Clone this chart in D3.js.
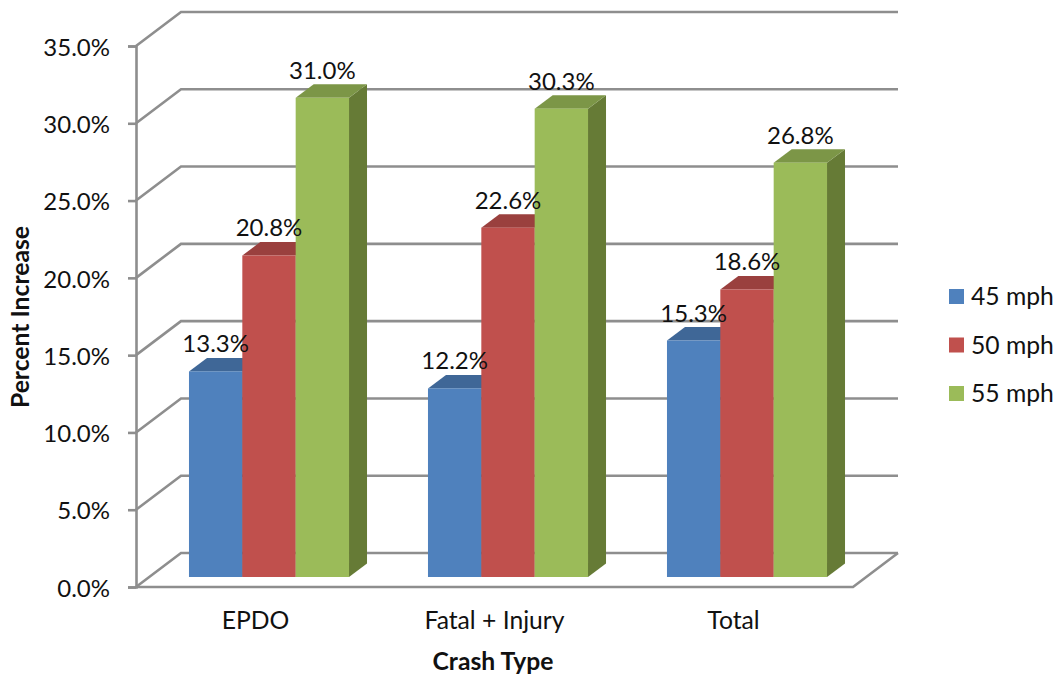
<!DOCTYPE html>
<html>
<head>
<meta charset="utf-8">
<script src="https://cdn.jsdelivr.net/npm/d3@7"></script>
<style>
  html, body { margin: 0; padding: 0; background: #fff; }
  svg { display: block; }
  text { font-family: Lato, "Noto Sans", sans-serif; fill: #111; }
</style>
</head>
<body>
<svg id="chart" width="1057" height="675"></svg>
<script>
const categories = ["EPDO", "Fatal + Injury", "Total"];
const seriesNames = ["45 mph", "50 mph", "55 mph"];
const speed45 = [13.3, 12.2, 15.3];
const speed50 = [20.8, 22.6, 18.6];
const speed55 = [31.0, 30.3, 26.8];
const seriesValues = [speed45, speed50, speed55];
const yTicks = [0, 5, 10, 15, 20, 25, 30, 35];
const frontColors = ["#4F81BD", "#C0504D", "#9BBB59"];
const topColors = ["#3F6797", "#9A403E", "#7C9647"];
const sideColors = ["#2F4D71", "#73302E", "#667B36"];

const svg = d3.select("#chart");
const numberSize = 24;
const wordSize = 24.7;

// Front plane of the 3D box and the depth offset of its back wall
const plot = { left: 136, right: 853, top: 46, bottom: 587 };
const wall = { dx: 45, dy: -34 };
// Bars stand part-way into the box and have their own depth
const barShift = { dx: 13.5, dy: -10 };
const barDepth = { dx: 18, dy: -13.5 };

const y = d3.scaleLinear().domain([0, 35]).range([plot.bottom, plot.top]);
const x = d3.scaleBand().domain(categories).range([plot.left, plot.right]);
const xSeries = d3.scaleBand().domain(d3.range(seriesNames.length))
  .range([0, x.bandwidth()]).paddingInner(0).paddingOuter(0.74);

const gridColor = "#8E8E8E";
const grid = svg.append("g")
  .attr("fill", "none").attr("stroke", gridColor).attr("stroke-width", 2.6);

// Back wall rules and their returns along the left wall
yTicks.forEach(t => {
  grid.append("path").attr("d", d3.line()([
    [plot.left, y(t)],
    [plot.left + wall.dx, y(t) + wall.dy],
    [plot.right + wall.dx, y(t) + wall.dy]
  ]));
});

// Floor outline
grid.append("path").attr("d", d3.line()([
  [plot.left, plot.bottom],
  [plot.right, plot.bottom],
  [plot.right + wall.dx, plot.bottom + wall.dy]
]));

// Value axis with outward ticks
const yAxis = svg.append("g")
  .attr("transform", `translate(${plot.left},0)`)
  .call(d3.axisLeft(y).tickValues(yTicks).tickSize(8).tickPadding(18)
    .tickFormat(d => d3.format(".1f")(d) + "%"));
yAxis.selectAll("line, path").attr("stroke", gridColor).attr("stroke-width", 2.6);
yAxis.selectAll("text").attr("font-size", numberSize).attr("font-family", null).attr("y", 1.5);

// Category axis: only the labels are visible, the line is part of the floor
const xAxis = svg.append("g")
  .attr("transform", `translate(0,${plot.bottom})`)
  .call(d3.axisBottom(x).tickSize(0).tickPadding(24));
xAxis.select("path").remove();
xAxis.selectAll("text").attr("font-size", wordSize).attr("font-family", null);

// Extruded bars, painted left to right so each one covers its neighbour's side
const barBase = plot.bottom + barShift.dy;
const barsLayer = svg.append("g");
const labels = [];
categories.forEach((cat, ci) => {
  seriesValues.forEach((vals, si) => {
    const x0 = x(cat) + xSeries(si) + barShift.dx;
    const x1 = x0 + xSeries.bandwidth();
    const top = y(vals[ci]) + barShift.dy;
    const d = barDepth;
    barsLayer.append("path").attr("fill", sideColors[si]).attr("d", d3.line()([
      [x1, top], [x1 + d.dx, top + d.dy], [x1 + d.dx, barBase + d.dy], [x1, barBase]
    ]) + "Z");
    barsLayer.append("path").attr("fill", topColors[si]).attr("d", d3.line()([
      [x0, top], [x0 + d.dx, top + d.dy], [x1 + d.dx, top + d.dy], [x1, top]
    ]) + "Z");
    barsLayer.append("rect")
      .attr("x", x0).attr("y", top)
      .attr("width", x1 - x0).attr("height", barBase - top)
      .attr("fill", frontColors[si]);
    labels.push({ x: (x0 + x1) / 2, y: top - 19, value: vals[ci] });
  });
});

// Value labels go last so they sit over every bar
svg.append("g").selectAll("text").data(labels).join("text")
  .attr("x", d => d.x).attr("y", d => d.y)
  .attr("text-anchor", "middle").attr("font-size", numberSize)
  .text(d => d.value.toFixed(1) + "%");

// Axis titles
svg.append("text")
  .attr("x", 493).attr("y", 670).attr("text-anchor", "middle")
  .attr("font-size", wordSize).attr("font-weight", 700)
  .text("Crash Type");
svg.append("text")
  .attr("transform", "translate(29,317) rotate(-90)").attr("text-anchor", "middle")
  .attr("font-size", wordSize).attr("font-weight", 700)
  .text("Percent Increase");

// Legend
const legendY = d3.scalePoint().domain(seriesNames).range([296.5, 393.5]);
const legend = svg.append("g").selectAll("g").data(seriesNames).join("g")
  .attr("transform", d => `translate(949,${legendY(d)})`);
legend.append("rect")
  .attr("x", 0).attr("y", -7.5).attr("width", 15).attr("height", 15)
  .attr("fill", (d, i) => frontColors[i]);
legend.append("text")
  .attr("x", 22).attr("y", 8.5).attr("font-size", wordSize)
  .text(d => d);
</script>
</body>
</html>
